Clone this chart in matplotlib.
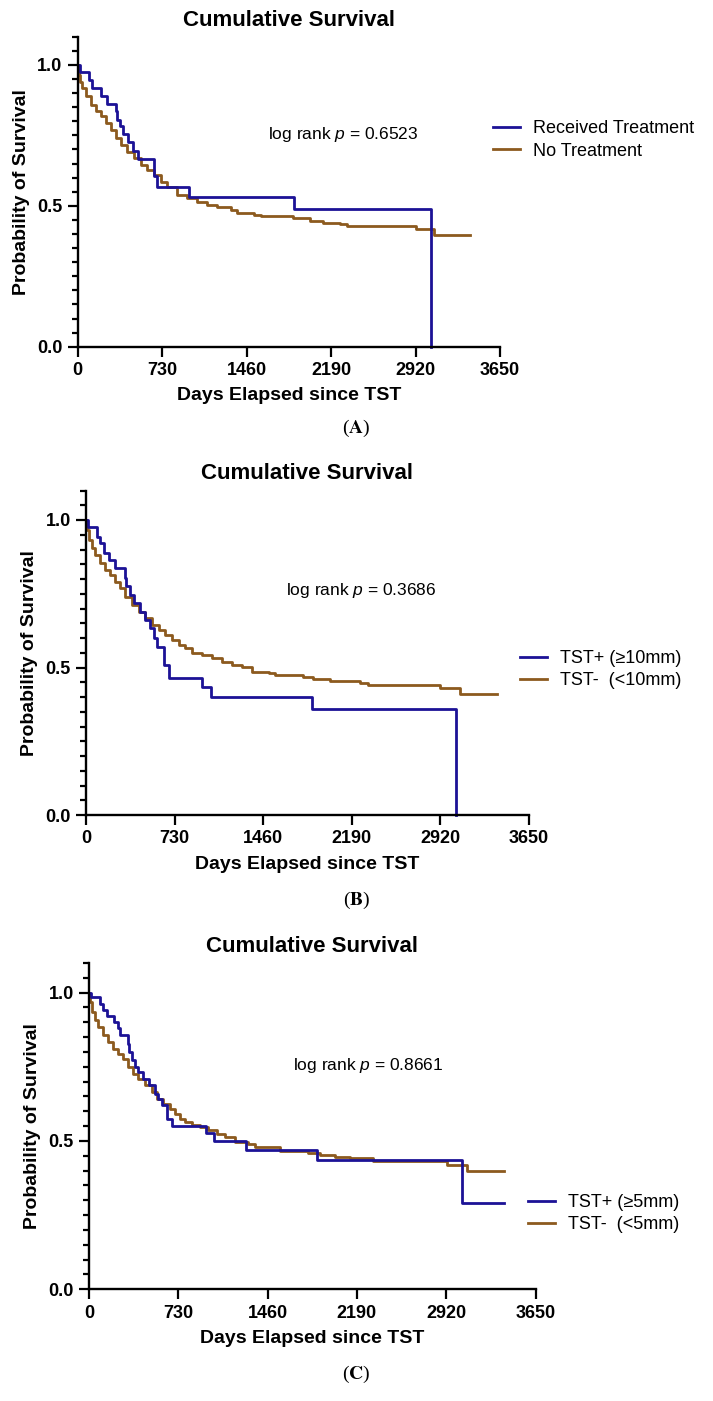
import numpy as np
import matplotlib
matplotlib.use("Agg")
from matplotlib import pyplot as plt
from matplotlib.ticker import MultipleLocator

plt.rcParams['font.family'] = ['Liberation Sans', 'DejaVu Sans']
plt.rcParams['mathtext.fontset'] = 'custom'
plt.rcParams['mathtext.rm'] = 'Liberation Sans'
plt.rcParams['mathtext.it'] = 'Liberation Sans:italic'

BLUE = '#1c1296'
BROWN = '#8c5a1e'

# panel A - treatment
a_treat_days = [0, 20, 98, 126, 204, 251, 329, 343, 366, 395, 435, 481, 521, 660, 683, 963, 1870, 3053]
a_treat_surv = [1.0, 0.976, 0.947, 0.917, 0.888, 0.861, 0.835, 0.806, 0.782, 0.753, 0.727, 0.696,
                0.667, 0.605, 0.567, 0.530, 0.489, 0.0]
a_none_days = [0, 8, 20, 40, 69, 112, 155, 199, 242, 285, 329, 372, 429, 487, 545, 602, 660, 718, 775,
               862, 948, 1035, 1121, 1208, 1323, 1381, 1525, 1583, 1865, 2010, 2124, 2268, 2326, 2926,
               3082, 3392]
a_none_surv = [1.0, 0.964, 0.94, 0.917, 0.888, 0.858, 0.835, 0.817, 0.793, 0.769, 0.739, 0.716, 0.692,
               0.668, 0.645, 0.627, 0.609, 0.586, 0.568, 0.538, 0.529, 0.515, 0.503, 0.494, 0.485, 0.474,
               0.468, 0.464, 0.456, 0.447, 0.440, 0.436, 0.428, 0.417, 0.398, 0.398]

# panel B - TST 10mm cutoff
b_pos_days = [0, 16, 91, 118, 146, 192, 242, 319, 333, 366, 393, 448, 489, 531, 558, 586, 640, 682,
              957, 1031, 1867, 3050]
b_pos_surv = [1.0, 0.975, 0.943, 0.921, 0.889, 0.865, 0.836, 0.802, 0.776, 0.746, 0.72, 0.689, 0.661,
              0.633, 0.599, 0.571, 0.509, 0.463, 0.433, 0.399, 0.358, 0.0]
b_neg_days = [0, 8, 27, 50, 77, 118, 160, 201, 242, 283, 325, 379, 434, 489, 544, 599, 654, 709, 764,
              819, 874, 957, 1040, 1122, 1205, 1287, 1370, 1507, 1562, 1793, 1875, 2013, 2260, 2329,
              2920, 3085, 3393]
b_neg_surv = [1.0, 0.966, 0.932, 0.904, 0.881, 0.853, 0.83, 0.813, 0.791, 0.768, 0.74, 0.712, 0.689,
              0.667, 0.644, 0.627, 0.61, 0.593, 0.576, 0.565, 0.55, 0.542, 0.531, 0.52, 0.508, 0.503,
              0.486, 0.482, 0.474, 0.467, 0.461, 0.455, 0.448, 0.441, 0.429, 0.409, 0.409]

# panel C - TST 5mm cutoff
c_pos_days = [0, 16, 90, 117, 144, 207, 240, 253, 316, 330, 349, 376, 403, 444, 490, 540, 567, 594,
              635, 676, 956, 1024, 1281, 1866, 3052, 3395]
c_pos_surv = [1.0, 0.985, 0.963, 0.94, 0.921, 0.901, 0.881, 0.858, 0.828, 0.8, 0.772, 0.749, 0.732,
              0.71, 0.688, 0.659, 0.643, 0.62, 0.575, 0.549, 0.526, 0.50, 0.47, 0.437, 0.292, 0.292]
c_neg_days = [0, 8, 27, 49, 76, 117, 158, 199, 240, 281, 322, 362, 403, 458, 512, 553, 608, 662, 703,
              744, 785, 839, 907, 976, 1044, 1112, 1194, 1302, 1357, 1561, 1793, 1888, 2011, 2133, 2324,
              2923, 3087, 3395]
c_neg_surv = [1.0, 0.968, 0.935, 0.906, 0.884, 0.856, 0.834, 0.811, 0.794, 0.775, 0.749, 0.727, 0.71,
              0.688, 0.665, 0.643, 0.626, 0.609, 0.592, 0.575, 0.564, 0.555, 0.547, 0.536, 0.524, 0.513,
              0.498, 0.490, 0.478, 0.466, 0.458, 0.452, 0.447, 0.441, 0.432, 0.419, 0.398, 0.398]

x_ticks = [0, 730, 1460, 2190, 2920, 3650]
y_ticks = [0.0, 0.5, 1.0]
y_ticklabels = ['0.0', '0.5', '1.0']

W, H = 713, 1401
fig = plt.figure(figsize=(W / 100, H / 100), dpi=100)


def px_axes(left, right, top, bottom):
    return fig.add_axes([left / W, 1 - bottom / H, (right - left) / W, (bottom - top) / H])


def panel(ax, blue_x, blue_y, brown_x, brown_y, labels, ptext, leg_xy, p_xy):
    ax.plot(brown_x, brown_y, drawstyle='steps-post', color=BROWN, lw=2, label=labels[1], clip_on=False)
    ax.plot(blue_x, blue_y, drawstyle='steps-post', color=BLUE, lw=2, label=labels[0], clip_on=False)
    ax.set_xlim(0, 3650)
    ax.set_ylim(0, 1.1)
    ax.spines['top'].set_visible(False)
    ax.spines['right'].set_visible(False)
    ax.spines['left'].set_linewidth(1.7)
    ax.spines['bottom'].set_linewidth(1.7)
    ax.set_xticks(x_ticks)
    ax.set_xticklabels([str(v) for v in x_ticks], fontweight='bold', fontsize=13)
    ax.set_yticks(y_ticks)
    ax.set_yticklabels(y_ticklabels, fontweight='bold', fontsize=13)
    ax.yaxis.set_minor_locator(MultipleLocator(0.05))
    ax.tick_params(axis='both', which='major', length=7, width=1.6, pad=4)
    ax.tick_params(axis='y', which='minor', length=4, width=1.6)
    ax.set_title('Cumulative Survival', fontweight='bold', fontsize=16, pad=8)
    ax.set_xlabel('Days Elapsed since TST', fontweight='bold', fontsize=14, labelpad=6)
    ax.set_ylabel('Probability of Survival', fontweight='bold', fontsize=14, labelpad=5)
    ax.text(p_xy[0], p_xy[1], ptext, transform=ax.transAxes, fontsize=12.5, ha='left', va='center')
    h, l = ax.get_legend_handles_labels()
    ax.legend(h[::-1], l[::-1], loc='center left', bbox_to_anchor=leg_xy, frameon=False, fontsize=13,
              handlelength=1.5, handletextpad=0.7, labelspacing=0.3, borderpad=0, borderaxespad=0)


axA = px_axes(77.7, 500, 36.7, 346.7)
panel(axA, a_treat_days, a_treat_surv, a_none_days, a_none_surv,
      ['Received Treatment', 'No Treatment'], 'log rank $p$ = 0.6523', (0.983, 0.667), (0.45, 0.683))

axB = px_axes(86, 528.5, 490.5, 815)
panel(axB, b_pos_days, b_pos_surv, b_neg_days, b_neg_surv,
      ['TST+ (≥10mm)', 'TST-  (<10mm)'], 'log rank $p$ = 0.3686', (0.981, 0.448), (0.452, 0.693))

axC = px_axes(89, 535.5, 962.9, 1289.3)
panel(axC, c_pos_days, c_pos_surv, c_neg_days, c_neg_surv,
      ['TST+ (≥5mm)', 'TST-  (<5mm)'], 'log rank $p$ = 0.8661', (0.983, 0.232), (0.456, 0.687))

for lab, ypx in [('A', 428), ('B', 900), ('C', 1374)]:
    fig.text(356.5 / W, 1 - ypx / H, r'($\mathbf{' + lab + '}$)', family='Liberation Serif',
             math_fontfamily='stix', fontsize=14, ha='center', va='center')

fig.savefig('out.png', dpi=100)
